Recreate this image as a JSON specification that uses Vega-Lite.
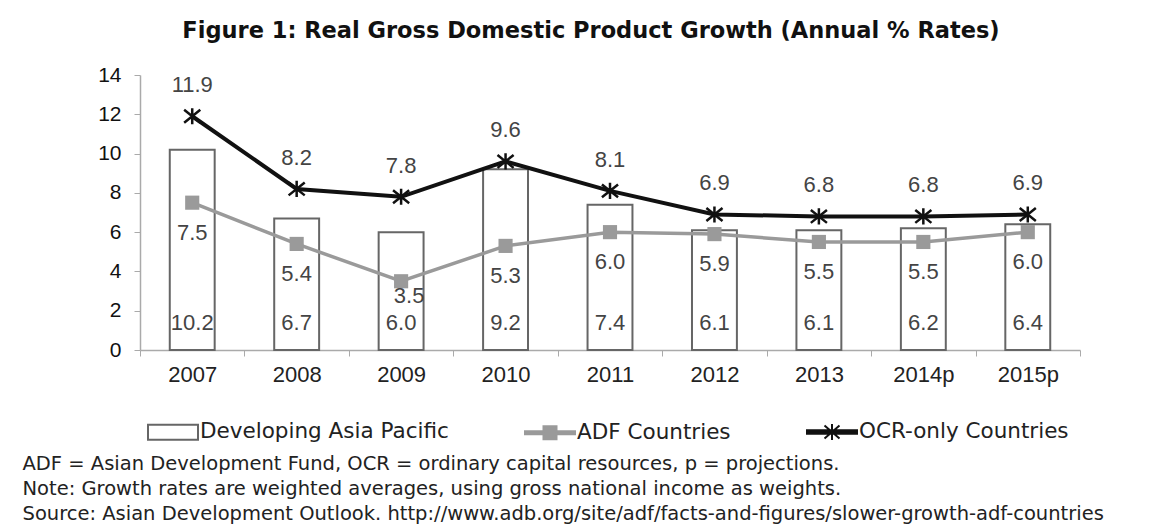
{
  "$schema": "https://vega.github.io/schema/vega-lite/v6.json",
  "width": 940,
  "height": 275,
  "autosize": {"type": "none"},
  "padding": {"left": 140, "top": 75, "right": 88, "bottom": 179},
  "background": "white",
  "title": {
    "text": "Figure 1: Real Gross Domestic Product Growth (Annual % Rates)",
    "font": "DejaVu Sans",
    "fontSize": 22.5,
    "fontWeight": "bold",
    "color": "#111",
    "anchor": "middle",
    "dx": -19,
    "offset": 22
  },
  "config": {"view": {"stroke": null}, "axis": {"grid": false}},
  "data": {
    "values": [
      {"year": "2007", "series": "Developing Asia Pacific", "value": 10.2},
      {"year": "2008", "series": "Developing Asia Pacific", "value": 6.7},
      {"year": "2009", "series": "Developing Asia Pacific", "value": 6.0},
      {"year": "2010", "series": "Developing Asia Pacific", "value": 9.2},
      {"year": "2011", "series": "Developing Asia Pacific", "value": 7.4},
      {"year": "2012", "series": "Developing Asia Pacific", "value": 6.1},
      {"year": "2013", "series": "Developing Asia Pacific", "value": 6.1},
      {"year": "2014p", "series": "Developing Asia Pacific", "value": 6.2},
      {"year": "2015p", "series": "Developing Asia Pacific", "value": 6.4},
      {"year": "2007", "series": "ADF Countries", "value": 7.5},
      {"year": "2008", "series": "ADF Countries", "value": 5.4},
      {"year": "2009", "series": "ADF Countries", "value": 3.5},
      {"year": "2010", "series": "ADF Countries", "value": 5.3},
      {"year": "2011", "series": "ADF Countries", "value": 6.0},
      {"year": "2012", "series": "ADF Countries", "value": 5.9},
      {"year": "2013", "series": "ADF Countries", "value": 5.5},
      {"year": "2014p", "series": "ADF Countries", "value": 5.5},
      {"year": "2015p", "series": "ADF Countries", "value": 6.0},
      {"year": "2007", "series": "OCR-only Countries", "value": 11.9},
      {"year": "2008", "series": "OCR-only Countries", "value": 8.2},
      {"year": "2009", "series": "OCR-only Countries", "value": 7.8},
      {"year": "2010", "series": "OCR-only Countries", "value": 9.6},
      {"year": "2011", "series": "OCR-only Countries", "value": 8.1},
      {"year": "2012", "series": "OCR-only Countries", "value": 6.9},
      {"year": "2013", "series": "OCR-only Countries", "value": 6.8},
      {"year": "2014p", "series": "OCR-only Countries", "value": 6.8},
      {"year": "2015p", "series": "OCR-only Countries", "value": 6.9}
    ]
  },
  "encoding": {
    "x": {
      "field": "year",
      "type": "nominal",
      "sort": null,
      "scale": {
        "domain": ["2007", "2008", "2009", "2010", "2011", "2012", "2013", "2014p", "2015p"],
        "paddingInner": 0,
        "paddingOuter": 0
      },
      "axis": {
        "labelAngle": 0,
        "labelFont": "Liberation Sans",
        "labelFontSize": 22,
        "labelColor": "#222",
        "labelPadding": 8,
        "tickBand": "extent",
        "tickSize": 6,
        "tickColor": "#aaa",
        "domainColor": "#aaa",
        "domainWidth": 1.5,
        "title": [
          "ADF = Asian Development Fund, OCR = ordinary capital resources, p = projections.",
          "Note: Growth rates are weighted averages, using gross national income as weights.",
          "Source: Asian Development Outlook. http://www.adb.org/site/adf/facts-and-figures/slower-growth-adf-countries"
        ],
        "titleFont": "DejaVu Sans",
        "titleFontSize": 19.5,
        "titleFontWeight": "normal",
        "titleColor": "#222",
        "titleAnchor": "start",
        "titleAlign": "left",
        "titleBaseline": "top",
        "titleLineHeight": 25,
        "titleX": -118,
        "titleY": 104
      }
    },
    "y": {
      "field": "value",
      "type": "quantitative",
      "scale": {"domain": [0, 14], "nice": false},
      "axis": {
        "values": [0, 2, 4, 6, 8, 10, 12, 14],
        "labelFont": "Liberation Sans",
        "labelFontSize": 21,
        "labelColor": "#111",
        "labelPadding": 13,
        "tickSize": 6,
        "tickColor": "#aaa",
        "domainColor": "#aaa",
        "domainWidth": 1.5,
        "title": null
      }
    }
  },
  "layer": [
    {
      "transform": [{"filter": "datum.series === 'Developing Asia Pacific'"}],
      "mark": {"type": "bar", "width": {"band": 0.43}, "fill": "white", "stroke": "#666", "strokeWidth": 2}
    },
    {
      "transform": [{"filter": "datum.series === 'ADF Countries'"}],
      "mark": {"type": "line", "color": "#9a9a9a", "strokeWidth": 3.5}
    },
    {
      "transform": [{"filter": "datum.series === 'OCR-only Countries'"}],
      "mark": {"type": "line", "color": "#111", "strokeWidth": 4}
    },
    {
      "transform": [{"filter": "datum.series === 'ADF Countries'"}],
      "mark": {"type": "point", "shape": "square", "filled": true, "color": "#9a9a9a", "size": 200, "opacity": 1}
    },
    {
      "transform": [{"filter": "datum.series === 'OCR-only Countries'"}],
      "mark": {"type": "point", "shape": "M-1,-0.8L1,0.8M-1,0.8L1,-0.8M0,-1V1", "filled": false, "stroke": "#111", "strokeWidth": 2.5, "size": 260, "opacity": 1}
    },
    {
      "transform": [{"filter": "datum.series === 'Developing Asia Pacific'"}],
      "mark": {"type": "text", "font": "Liberation Sans", "fontSize": 22, "color": "#444", "baseline": "middle", "dy": -27},
      "encoding": {
        "y": {"datum": 0},
        "text": {"field": "value", "type": "quantitative", "format": ".1f"}
      }
    },
    {
      "transform": [{"filter": "datum.series === 'ADF Countries' && datum.year !== '2009'"}],
      "mark": {"type": "text", "font": "Liberation Sans", "fontSize": 22, "color": "#444", "baseline": "middle", "dy": 30},
      "encoding": {"text": {"field": "value", "type": "quantitative", "format": ".1f"}}
    },
    {
      "transform": [{"filter": "datum.series === 'ADF Countries' && datum.year === '2009'"}],
      "mark": {"type": "text", "font": "Liberation Sans", "fontSize": 22, "color": "#444", "baseline": "middle", "dy": 15, "dx": 8},
      "encoding": {"text": {"field": "value", "type": "quantitative", "format": ".1f"}}
    },
    {
      "transform": [{"filter": "datum.series === 'OCR-only Countries'"}],
      "mark": {"type": "text", "font": "Liberation Sans", "fontSize": 22, "color": "#444", "baseline": "middle", "dy": -31},
      "encoding": {"text": {"field": "value", "type": "quantitative", "format": ".1f"}}
    },
    {
      "transform": [{"filter": "false"}],
      "mark": {"type": "point", "filled": true, "opacity": 1},
      "encoding": {
        "shape": {
          "field": "series",
          "type": "nominal",
          "scale": {
            "domain": ["Developing Asia Pacific", "ADF Countries", "OCR-only Countries"],
            "range": [
              "M-1,-0.3H1V0.3H-1Z",
              "M-1,-0.06H1V0.06H-1ZM-0.26,-0.26H0.26V0.26H-0.26Z",
              "M-1,-0.07H1V0.07H-1ZM-0.3,-0.26L0.3,0.26M-0.3,0.26L0.3,-0.26M0,-0.32V0.32Z"
            ]
          },
          "legend": {
            "orient": "none",
            "legendX": 7,
            "legendY": 331,
            "direction": "horizontal",
            "title": null,
            "padding": 0,
            "labelFont": "DejaVu Sans",
            "labelFontSize": 21.5,
            "labelColor": "#222",
            "labelLimit": 400,
            "labelOffset": 1,
            "symbolSize": 2500,
            "symbolStrokeWidth": 2,
            "columnPadding": 72,
            "symbolOpacity": 1
          }
        },
        "fill": {
          "field": "series",
          "type": "nominal",
          "scale": {
            "domain": ["Developing Asia Pacific", "ADF Countries", "OCR-only Countries"],
            "range": ["white", "#9a9a9a", "#111"]
          }
        },
        "stroke": {
          "field": "series",
          "type": "nominal",
          "scale": {
            "domain": ["Developing Asia Pacific", "ADF Countries", "OCR-only Countries"],
            "range": ["#666", "#9a9a9a", "#111"]
          }
        }
      }
    }
  ]
}
